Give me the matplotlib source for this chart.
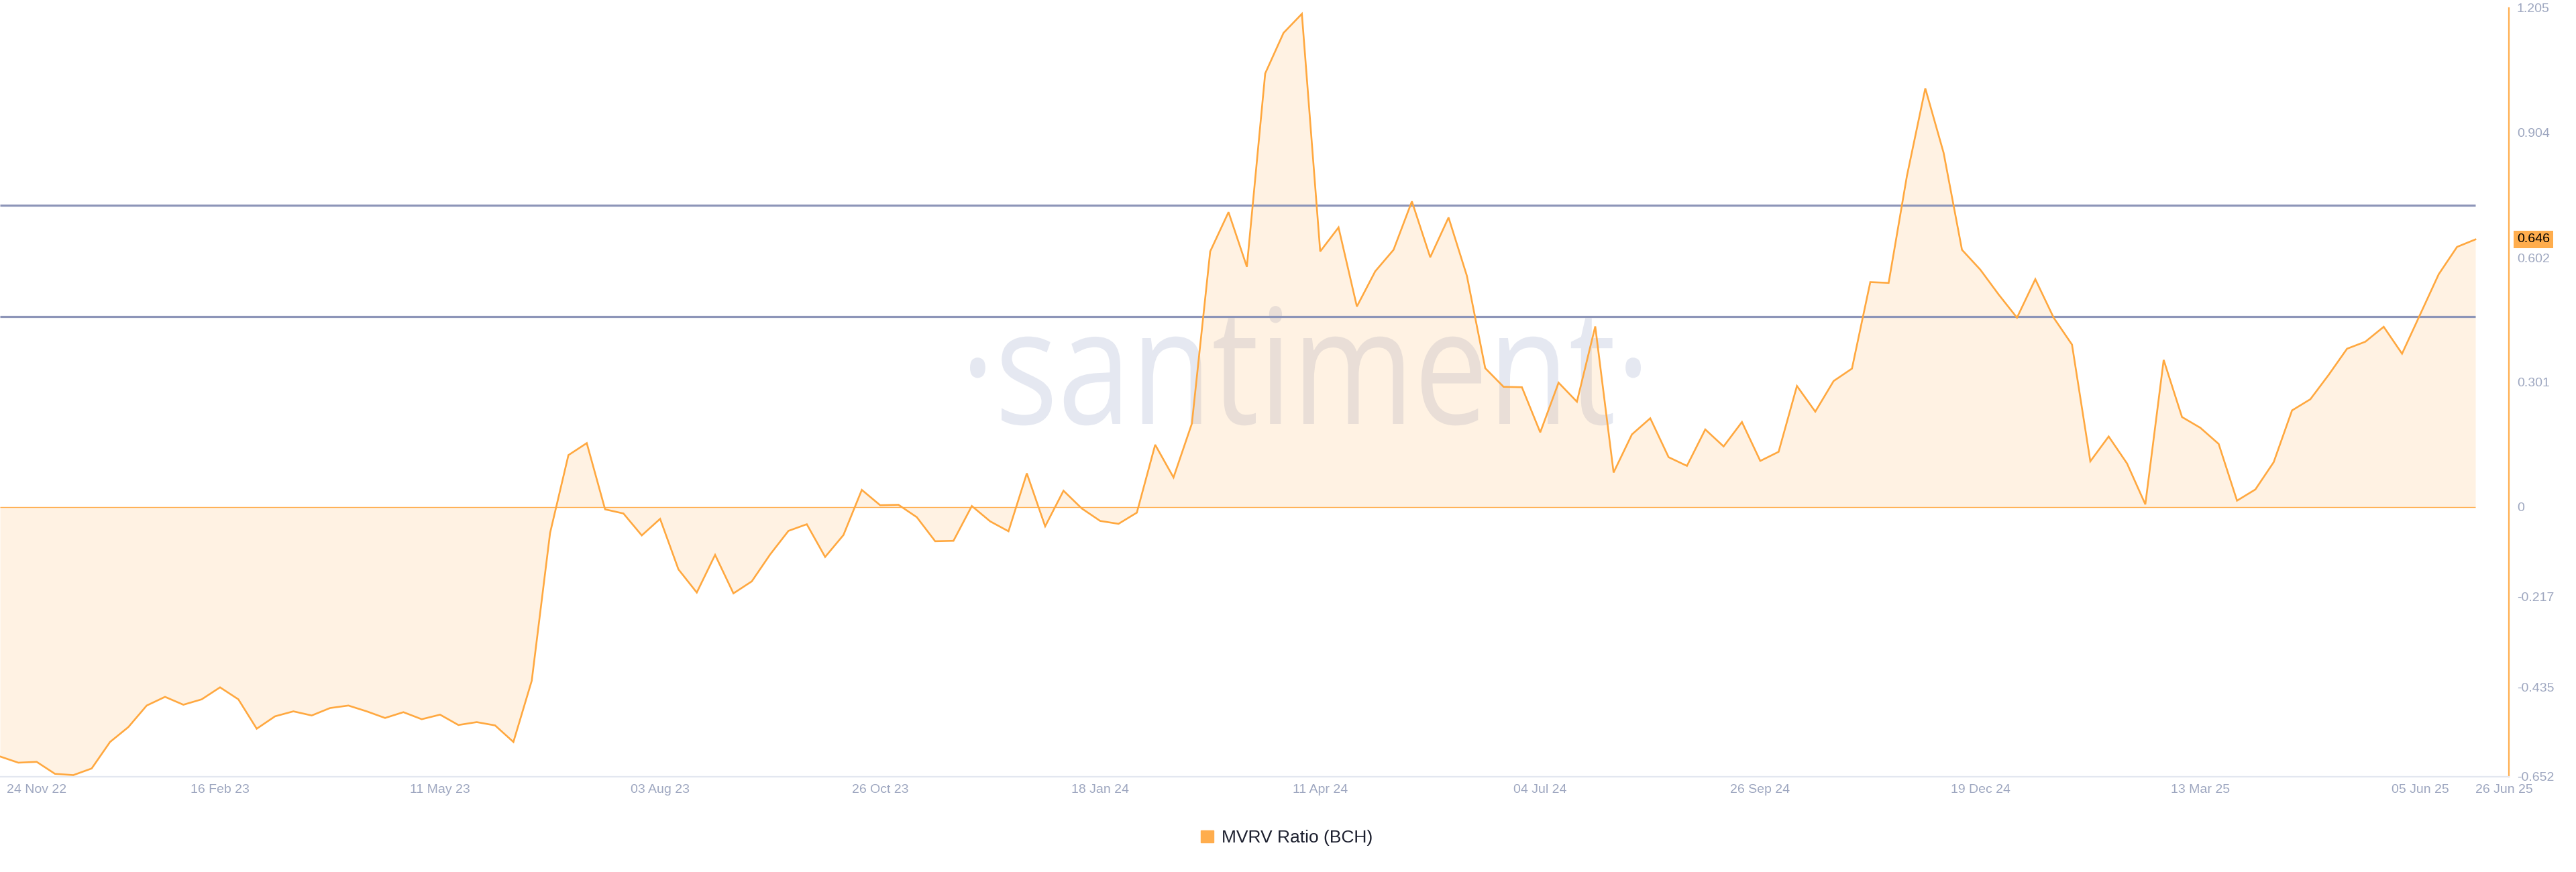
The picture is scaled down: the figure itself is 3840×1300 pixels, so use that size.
import matplotlib
matplotlib.use("Agg")
import matplotlib.pyplot as plt
import matplotlib.transforms as mtransforms
from matplotlib.patches import Patch, PathPatch
from matplotlib.textpath import TextPath
from matplotlib.font_manager import FontProperties
import pandas as pd

plt.rcParams['font.family'] = ['Liberation Sans', 'DejaVu Sans']

# weekly MVRV ratio for BCH, 24 Nov 2022 -> 26 Jun 2025
start_date = "2022-11-24"
mvrv = [
    -0.603, -0.618, -0.616, -0.645, -0.648, -0.632, -0.568, -0.532, -0.480, -0.459,
    -0.478, -0.465, -0.436, -0.465, -0.536, -0.506, -0.494, -0.504, -0.486, -0.480,
    -0.494, -0.510, -0.496, -0.513, -0.502, -0.527, -0.520, -0.528, -0.568, -0.420,
    -0.063, 0.125, 0.154, -0.006, -0.016, -0.069, -0.029, -0.151, -0.207, -0.116,
    -0.209, -0.180, -0.115, -0.058, -0.042, -0.121, -0.068, 0.041, 0.004, 0.005,
    -0.025, -0.083, -0.082, 0.002, -0.035, -0.059, 0.081, -0.047, 0.039, -0.004,
    -0.034, -0.041, -0.014, 0.150, 0.071, 0.201, 0.617, 0.712, 0.580, 1.047,
    1.145, 1.191, 0.617, 0.675, 0.484, 0.569, 0.621, 0.738, 0.603, 0.699,
    0.558, 0.335, 0.290, 0.289, 0.180, 0.300, 0.254, 0.436, 0.083, 0.175,
    0.214, 0.120, 0.099, 0.187, 0.146, 0.205, 0.111, 0.133, 0.292, 0.230,
    0.304, 0.334, 0.543, 0.541, 0.800, 1.011, 0.855, 0.621, 0.573, 0.513,
    0.457, 0.550, 0.457, 0.392, 0.110, 0.170, 0.105, 0.006, 0.355, 0.217,
    0.191, 0.152, 0.015, 0.042, 0.108, 0.233, 0.260, 0.319, 0.382, 0.399,
    0.435, 0.370, 0.466, 0.562, 0.628, 0.646,
]
dates = pd.date_range(start_date, periods=len(mvrv), freq="7D")

# reference levels drawn as horizontal lines
levels = [0.729, 0.459]

xtick_dates = ["2022-11-24", "2023-02-16", "2023-05-11", "2023-08-03", "2023-10-26",
               "2024-01-18", "2024-04-11", "2024-07-04", "2024-09-26", "2024-12-19",
               "2025-03-13", "2025-06-05", "2025-06-26"]
xtick_labels = ["24 Nov 22", "16 Feb 23", "11 May 23", "03 Aug 23", "26 Oct 23",
                "18 Jan 24", "11 Apr 24", "04 Jul 24", "26 Sep 24", "19 Dec 24",
                "13 Mar 25", "05 Jun 25", "26 Jun 25"]
yticks = [1.205, 0.904, 0.602, 0.301, 0, -0.217, -0.435, -0.652]
ytick_labels = ["1.205", "0.904", "0.602", "0.301", "0", "-0.217", "-0.435", "-0.652"]
last_label = "0.646"

orange = "#ffad4d"
line_orange = "#ffa83f"
tick_col = "#9ea7c0"
level_col = "#8d95b8"

W, H = 3840, 1300
fig = plt.figure(figsize=(W / 100, H / 100), dpi=100, facecolor="white")
ax = fig.add_axes([0, (H - 1158) / H, 3740 / W, (1158 - 12) / H])
ax.set_facecolor("none")

# watermark (stretched text drawn as a path)
wm_prop = FontProperties(family=["Open Sans", "DejaVu Sans"])
wm = TextPath((0, 0), "\u00b7santiment\u00b7", size=100, prop=wm_prop)
bb = wm.get_extents()
xh = TextPath((0, 0), "x", size=100, prop=wm_prop).get_extents().height
sx = 1000 / bb.width
sy = 128 / xh
wm_tr = (mtransforms.Affine2D().translate(-bb.x0, 0).scale(sx / W, sy / H)
         .translate(1446 / W, (H - 632) / H) + fig.transFigure)
ax.add_patch(PathPatch(wm, transform=wm_tr, fc="#e5e8f1", ec="none",
                       zorder=0.5, clip_on=False))

ax.fill_between(dates, mvrv, 0, color=orange, alpha=0.155, lw=0, zorder=1,
                antialiased=False)
ax.hlines(0, dates[0], dates[-1], color=orange, lw=1.0, zorder=2)
ax.hlines(levels, dates[0], dates[-1], color=level_col, lw=2.3, zorder=2)
ax.plot(dates, mvrv, color=line_orange, lw=1.9, zorder=3, solid_joinstyle="miter")

ax.set_xlim(dates[0], dates[-1] + pd.Timedelta(days=12.8))
ax.set_ylim(-0.652, 1.205)

for s in ["left", "top"]:
    ax.spines[s].set_visible(False)
ax.spines["right"].set_color(orange)
ax.spines["right"].set_linewidth(1.6)
ax.spines["bottom"].set_color("#e3e7f0")
ax.spines["bottom"].set_linewidth(1.6)

ax.yaxis.tick_right()
ax.set_yticks(yticks)
ax.set_yticklabels(ytick_labels)
ax.tick_params(axis="y", length=0, pad=8.5, labelsize=14, labelcolor=tick_col)

ax.set_xticks(pd.to_datetime(xtick_dates))
ax.set_xticklabels(xtick_labels)
ax.tick_params(axis="x", length=0, pad=8, labelsize=14, labelcolor=tick_col)
xl = ax.get_xticklabels()
xl[0].set_ha("left")
xl[0].set_transform(xl[0].get_transform() +
                    mtransforms.ScaledTranslation(0.10, 0, fig.dpi_scale_trans))
xl[-1].set_ha("left")

# highlighted last value on the right axis
ax.text(1, mvrv[-1], last_label, fontsize=14, color="black", va="center", ha="left",
        transform=mtransforms.blended_transform_factory(ax.transAxes, ax.transData)
        + mtransforms.ScaledTranslation(0.12, 0, fig.dpi_scale_trans),
        bbox=dict(boxstyle="square,pad=0.25", fc=orange, ec="none"), zorder=5,
        clip_on=False)

fig.legend(handles=[Patch(color=orange)], labels=["MVRV Ratio (BCH)"], loc="center",
           bbox_to_anchor=(1918 / W, 1 - 1249 / H), frameon=False, fontsize=19,
           handlelength=0.7, handleheight=0.7, handletextpad=0.45,
           labelcolor="#1c1f2e")

fig.savefig("out.png", dpi=100, facecolor="white")
